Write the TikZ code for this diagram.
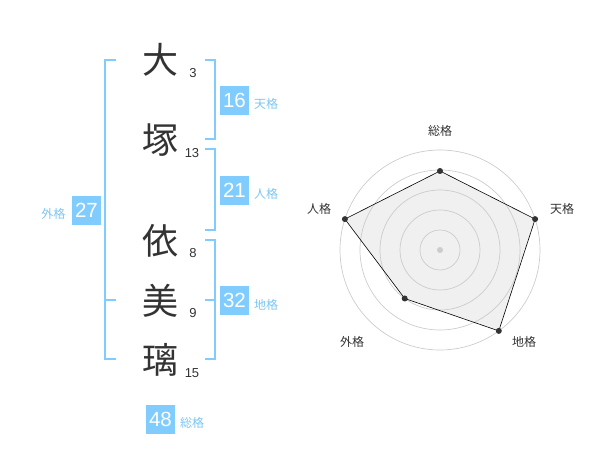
\documentclass[tikz,border=0pt]{standalone}
\usepackage{fontspec}
\setmainfont{Liberation Sans}
\newfontfamily\cjk{Noto Sans CJK JP}
\definecolor{blu}{RGB}{128,204,255}
\definecolor{lbl}{RGB}{125,198,242}
\definecolor{ink}{RGB}{51,51,51}
\definecolor{ring}{RGB}{204,204,204}
\definecolor{area}{RGB}{240,240,240}
\tikzset{
  kanji/.style={inner sep=0pt, text=ink, font=\cjk\fontsize{36}{36}\selectfont},
  strokes/.style={inner sep=0pt, text=ink, font=\fontsize{13}{13}\selectfont},
  vbox/.style={fill=blu, text=white, minimum size=29pt, inner sep=0pt, font=\fontsize{20.5}{20.5}\selectfont},
  glbl/.style={inner sep=0pt, text=lbl, font=\cjk\fontsize{12}{12}\selectfont},
  rlbl/.style={inner sep=0pt, text=ink, font=\cjk\fontsize{12}{12}\selectfont},
  brk/.style={draw=blu, line width=2pt},
  ringline/.style={draw=ring, line width=0.7pt},
  pt/.style={circle, fill=ink, minimum size=6pt, inner sep=0pt},
}
\begin{document}
\begin{tikzpicture}[x=1pt,y=-1pt]
\useasboundingbox (0,0) rectangle (600,470);
% characters
\node[kanji] (c1) at (160,60) {大};
\node[kanji] (c2) at (160,140) {塚};
\node[kanji] (c3) at (160,241) {依};
\node[kanji] (c4) at (160,301) {美};
\node[kanji] (c5) at (160,360) {璃};
\node[strokes] (n1) at (193,73) {3};
\node[strokes] (n2) at (192,153) {13};
\node[strokes] (n3) at (193,253) {8};
\node[strokes] (n4) at (193,313) {9};
\node[strokes] (n5) at (192,373) {15};
% brackets
\draw[brk] (116,60) -- (105,60) -- (105,359.5) -- (116,359.5);
\draw[brk] (105,300) -- (116,300);
\draw[brk] (205,60) -- (215,60) -- (215,139.5) -- (205,139.5);
\draw[brk] (205,149.5) -- (215,149.5) -- (215,230) -- (205,230);
\draw[brk] (205,240) -- (215,240) -- (215,359.5) -- (205,359.5);
\draw[brk] (205,300) -- (215,300);
% boxes
\node[vbox] (b16) at (234.5,100.5) {16};
\node[glbl] (l16) at (266,104) {天格};
\node[vbox] (b21) at (234.5,190.5) {21};
\node[glbl] (l21) at (266,194) {人格};
\node[vbox] (b27) at (86.5,210.5) {27};
\node[glbl] (l27) at (53.5,214) {外格};
\node[vbox] (b32) at (234.5,300.5) {32};
\node[glbl] (l32) at (266,305) {地格};
\node[vbox] (b48) at (160.5,419.5) {48};
\node[glbl] (l48) at (192,423) {総格};
% radar
\coordinate (o) at (440,250);
\coordinate (pS) at (440,171);
\coordinate (pT) at (535.1,219.1);
\coordinate (pC) at (498.8,330.9);
\coordinate (pG) at (404.7,298.5);
\coordinate (pJ) at (344.9,219.1);
\fill[area] (pS) -- (pT) -- (pC) -- (pG) -- (pJ) -- cycle;
\foreach \r in {20,40,60,80,100} \draw[ringline] (o) circle[radius=\r];
\draw[black, line width=0.6pt] (pS) -- (pT) -- (pC) -- (pG) -- (pJ) -- cycle;
\node[circle, fill=ring, minimum size=6pt, inner sep=0pt] (oc) at (o) {};
\node[pt] (dS) at (pS) {};
\node[pt] (dT) at (pT) {};
\node[pt] (dC) at (pC) {};
\node[pt] (dG) at (pG) {};
\node[pt] (dJ) at (pJ) {};
\node[rlbl] (rS) at (440,131) {総格};
\node[rlbl] (rT) at (562,209) {天格};
\node[rlbl] (rC) at (524,342) {地格};
\node[rlbl] (rG) at (352,342) {外格};
\node[rlbl] (rJ) at (319,209) {人格};
\end{tikzpicture}
\end{document}
